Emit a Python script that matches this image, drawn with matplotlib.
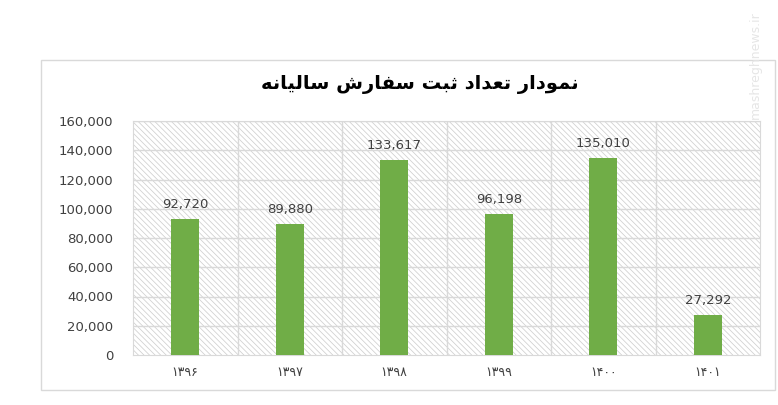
import matplotlib
matplotlib.use('Agg')
import matplotlib.pyplot as plt
from matplotlib.patches import Rectangle
from matplotlib.ticker import FuncFormatter

# داده‌های نمودار
title_text = 'نمودار تعداد ثبت سفارش سالیانه'
years = ['۱۳۹۶', '۱۳۹۷', '۱۳۹۸', '۱۳۹۹', '۱۴۰۰', '۱۴۰۱']
orders = [92720, 89880, 133617, 96198, 135010, 27292]

# جدول ساده برای شکل‌دهی حروف عربی/فارسی (isolated, final, initial, medial)
FORMS = {
    'ا': ('\uFE8D', '\uFE8E', None, None),
    'ب': ('\uFE8F', '\uFE90', '\uFE91', '\uFE92'),
    'ت': ('\uFE95', '\uFE96', '\uFE97', '\uFE98'),
    'ث': ('\uFE99', '\uFE9A', '\uFE9B', '\uFE9C'),
    'د': ('\uFEA9', '\uFEAA', None, None),
    'ر': ('\uFEAD', '\uFEAE', None, None),
    'س': ('\uFEB1', '\uFEB2', '\uFEB3', '\uFEB4'),
    'ش': ('\uFEB5', '\uFEB6', '\uFEB7', '\uFEB8'),
    'ع': ('\uFEC9', '\uFECA', '\uFECB', '\uFECC'),
    'ف': ('\uFED1', '\uFED2', '\uFED3', '\uFED4'),
    'ل': ('\uFEDD', '\uFEDE', '\uFEDF', '\uFEE0'),
    'م': ('\uFEE1', '\uFEE2', '\uFEE3', '\uFEE4'),
    'ن': ('\uFEE5', '\uFEE6', '\uFEE7', '\uFEE8'),
    'ه': ('\uFEE9', '\uFEEA', '\uFEEB', '\uFEEC'),
    'و': ('\uFEED', '\uFEEE', None, None),
    'ی': ('\uFEEF', '\uFEF0', '\uFEF3', '\uFEF4'),
}


def shape(text):
    """شکل‌دهی ساده و برعکس کردن ترتیب برای نمایش راست به چپ"""
    out = []
    for i, ch in enumerate(text):
        if ch not in FORMS:
            out.append(ch)
            continue
        prev = text[i - 1] if i > 0 else ''
        nxt = text[i + 1] if i + 1 < len(text) else ''
        join_prev = prev in FORMS and FORMS[prev][2] is not None
        join_next = FORMS[ch][2] is not None and nxt in FORMS
        iso, fin, ini, med = FORMS[ch]
        if join_prev and join_next:
            out.append(med)
        elif join_prev:
            out.append(fin)
        elif join_next:
            out.append(ini)
        else:
            out.append(iso)
    return ''.join(reversed(out))


plt.rcParams['hatch.linewidth'] = 0.55

fig = plt.figure(figsize=(7.78, 4.05), dpi=100)

# قاب بیرونی نمودار
fig.patches.append(Rectangle((41 / 778, 1 - 390 / 405), (775 - 41) / 778, (390 - 60) / 405,
                             transform=fig.transFigure, fill=False,
                             edgecolor='#d9d9d9', linewidth=1.0))

ax = fig.add_axes([133 / 778, 1 - 355 / 405, (760 - 133) / 778, (355 - 121) / 405])

x = list(range(len(years)))
ax.set_xlim(-0.5, len(years) - 0.5)
ax.set_ylim(0, 160000)

# پس‌زمینه هاشور خورده
ax.add_patch(Rectangle((0, 0), 1, 1, transform=ax.transAxes, facecolor='white',
                       edgecolor='#cfcfcf', hatch='\\\\\\\\\\\\', linewidth=0, zorder=0))

for yv in range(20000, 160001, 20000):
    ax.axhline(yv, color='#d9d9d9', linewidth=1.0, zorder=1)
for xv in range(len(years) - 1):
    ax.axvline(xv + 0.5, color='#d9d9d9', linewidth=1.0, zorder=1)

bars = ax.bar(x, orders, width=0.27, color='#70ad47', zorder=3)
for xi, v in zip(x, orders):
    ax.text(xi, v + 5500, f'{v:,}', ha='center', va='bottom', fontsize=9.5, color='#404040')

ax.set_xticks(x)
ax.set_xticklabels(years, fontsize=9, color='#404040')
ax.set_yticks(range(0, 160001, 20000))
ax.yaxis.set_major_formatter(FuncFormatter(lambda v, p: f'{int(v):,}'))
ax.tick_params(axis='y', labelsize=9.5, colors='#404040', length=0, pad=14)
ax.tick_params(axis='x', length=0, pad=8)
for s in ax.spines.values():
    s.set_color('#d9d9d9')

fig.text(420 / 778, 1 - 84 / 405, shape(title_text), ha='center', va='center',
         fontsize=14, fontweight='bold', color='black')

# واترمارک سایت
fig.text(755 / 778, 1 - 65 / 405, 'mashreghnews.ir', rotation=90, ha='center', va='center',
         fontsize=9, color='#e6e6e6')

fig.savefig('out.png', dpi=100)
